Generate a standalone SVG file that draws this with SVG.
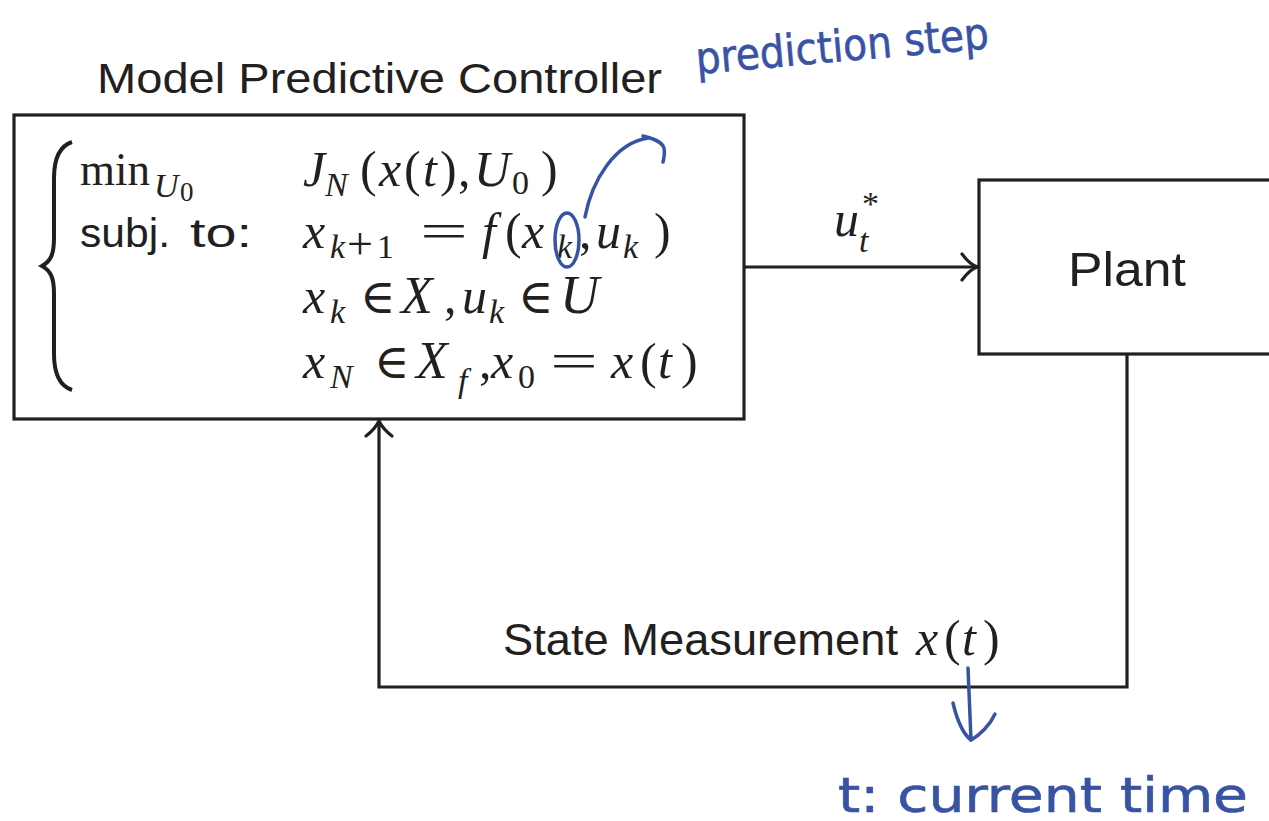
<svg xmlns="http://www.w3.org/2000/svg" width="1269" height="821" viewBox="0 0 1269 821">
<style>
.box{fill:#fff;stroke:#231f20;stroke-width:3.2}
.ln{fill:none;stroke:#231f20;stroke-width:3.2}
.ah{fill:none;stroke:#231f20;stroke-width:3.2;stroke-linecap:round}
.sans{font-family:"Liberation Sans",Arial,sans-serif;fill:#231f20}
.m{font-family:"Liberation Serif","Times New Roman",serif;font-style:italic;fill:#231f20;font-size:50px}
.r{font-family:"Liberation Serif","Times New Roman",serif;fill:#231f20;font-size:50px}
.in{font-family:"DejaVu Serif","Liberation Serif",serif;fill:#231f20;font-size:48px}
.s{font-size:34px}
.ss{font-size:27px}
.hw{font-family:"DejaVu Sans",sans-serif;fill:#3953a4;stroke:#3953a4;stroke-width:0.6}
.blue{fill:none;stroke:#3953a4;stroke-width:3.5;stroke-linecap:round;stroke-linejoin:round}
</style>
<rect width="1269" height="821" fill="#fff"/>

<g id="connectors">
  <line class="ln" x1="745" y1="267" x2="977" y2="267"/>
  <path class="ah" d="M962,254 C968,262 973,266 978,267 C973,268 968,272 962,280"/>
  <polyline class="ln" points="1127,354 1127,687 379,687 379,422"/>
  <path class="ah" d="M366,436 C374,430 377,425 379,421 C381,425 384,430 392,436"/>
  <g id="u-label">
    <text class="m" x="834" y="236">u</text>
    <text class="m s" x="859" y="252">t</text>
    <text class="r" x="862" y="215" style="font-size:34px">*</text>
  </g>
  <g id="measurement-label">
    <text class="sans" x="503" y="655" font-size="44" textLength="395" lengthAdjust="spacingAndGlyphs">State Measurement</text>
    <text class="m" x="916" y="655">x</text>
    <text class="r" x="944" y="655">(</text>
    <text class="m" x="962" y="655">t</text>
    <text class="r" x="983" y="655">)</text>
  </g>
</g>

<g id="mpc">
  <rect class="box" x="14" y="115" width="730" height="304"/>
  <text class="sans" x="97" y="93" font-size="42" textLength="565" lengthAdjust="spacingAndGlyphs">Model Predictive Controller</text>
  <path fill="none" stroke="#231f20" stroke-width="4" d="M72,142 C60,146 54,158 54,178 L54,238 C54,254 51,261 42,266 C51,271 54,278 54,294 L54,354 C54,374 60,386 72,390"/>
  <text class="r" x="80" y="185" style="font-size:46px" textLength="70" lengthAdjust="spacingAndGlyphs">min</text>
  <text class="m s" x="154" y="197">U</text>
  <text class="r ss" x="180" y="201">0</text>
  <text class="sans" x="80" y="247" font-size="40" textLength="90" lengthAdjust="spacingAndGlyphs">subj.</text>
  <text class="sans" x="190" y="247" font-size="40" textLength="62" lengthAdjust="spacingAndGlyphs">to:</text>

  <text class="m" x="303" y="186">J</text>
  <text class="m s" x="325" y="196">N</text>
  <text class="r" x="360" y="186">(</text>
  <text class="m" x="379" y="186">x</text>
  <text class="r" x="404" y="186">(</text>
  <text class="m" x="423" y="186">t</text>
  <text class="r" x="440" y="186">)</text>
  <text class="r" x="458" y="186">,</text>
  <text class="m" x="474" y="186">U</text>
  <text class="r s" x="512" y="194">0</text>
  <text class="r" x="541" y="186">)</text>

  <text class="m" x="303" y="248">x</text>
  <text class="m s" x="330" y="258">k</text>
  <text class="r" x="347" y="259" style="font-size:46px">+</text>
  <text class="r s" x="377" y="258">1</text>
  <text class="r" x="420" y="248" textLength="48" lengthAdjust="spacingAndGlyphs">=</text>
  <text class="m" x="482" y="248">f</text>
  <text class="r" x="505" y="248">(</text>
  <text class="m" x="522" y="248">x</text>
  <text class="m s" x="557" y="258">k</text>
  <text class="r" x="579" y="248">,</text>
  <text class="m" x="596" y="248">u</text>
  <text class="m s" x="623" y="258">k</text>
  <text class="r" x="654" y="248">)</text>

  <text class="m" x="303" y="313">x</text>
  <text class="m s" x="330" y="323">k</text>
  <text class="in" x="360" y="313">∈</text>
  <text class="m" x="401" y="313" style="font-size:52px">X</text>
  <text class="r" x="444" y="313">,</text>
  <text class="m" x="462" y="313">u</text>
  <text class="m s" x="489" y="323">k</text>
  <text class="in" x="518" y="313">∈</text>
  <text class="m" x="560" y="313" style="font-size:54px">U</text>

  <text class="m" x="303" y="378">x</text>
  <text class="m s" x="330" y="388">N</text>
  <text class="in" x="374" y="378">∈</text>
  <text class="m" x="416" y="378" style="font-size:52px">X</text>
  <text class="m s" x="458" y="392">f</text>
  <text class="r" x="479" y="378">,</text>
  <text class="m" x="491" y="378">x</text>
  <text class="r s" x="518" y="388">0</text>
  <text class="r" x="550" y="378" textLength="48" lengthAdjust="spacingAndGlyphs">=</text>
  <text class="m" x="611" y="378">x</text>
  <text class="r" x="640" y="378">(</text>
  <text class="m" x="658" y="378">t</text>
  <text class="r" x="681" y="378">)</text>
</g>

<g id="plant">
  <rect class="box" x="979" y="180" width="300" height="174"/>
  <text class="sans" x="1068" y="286" font-size="48" textLength="118" lengthAdjust="spacingAndGlyphs">Plant</text>
</g>

<g id="annotations">
  <text class="hw" x="697" y="74" font-size="44" textLength="294" lengthAdjust="spacingAndGlyphs" transform="rotate(-5 697 74)">prediction step</text>
  <ellipse class="blue" cx="567" cy="240" rx="12" ry="27"/>
  <path class="blue" d="M585,217 C592,180 615,143 648,138"/>
  <path class="blue" d="M643,136 C655,139 662,142 664,148 C665,153 664,158 663,162"/>
  <path class="blue" d="M968,668 L971,740"/>
  <path class="blue" d="M953,703 C957,720 962,733 971,740 C980,735 990,725 995,714"/>
  <text class="hw" x="838" y="812" font-size="48" textLength="410" lengthAdjust="spacingAndGlyphs">t: current time</text>
</g>
</svg>
